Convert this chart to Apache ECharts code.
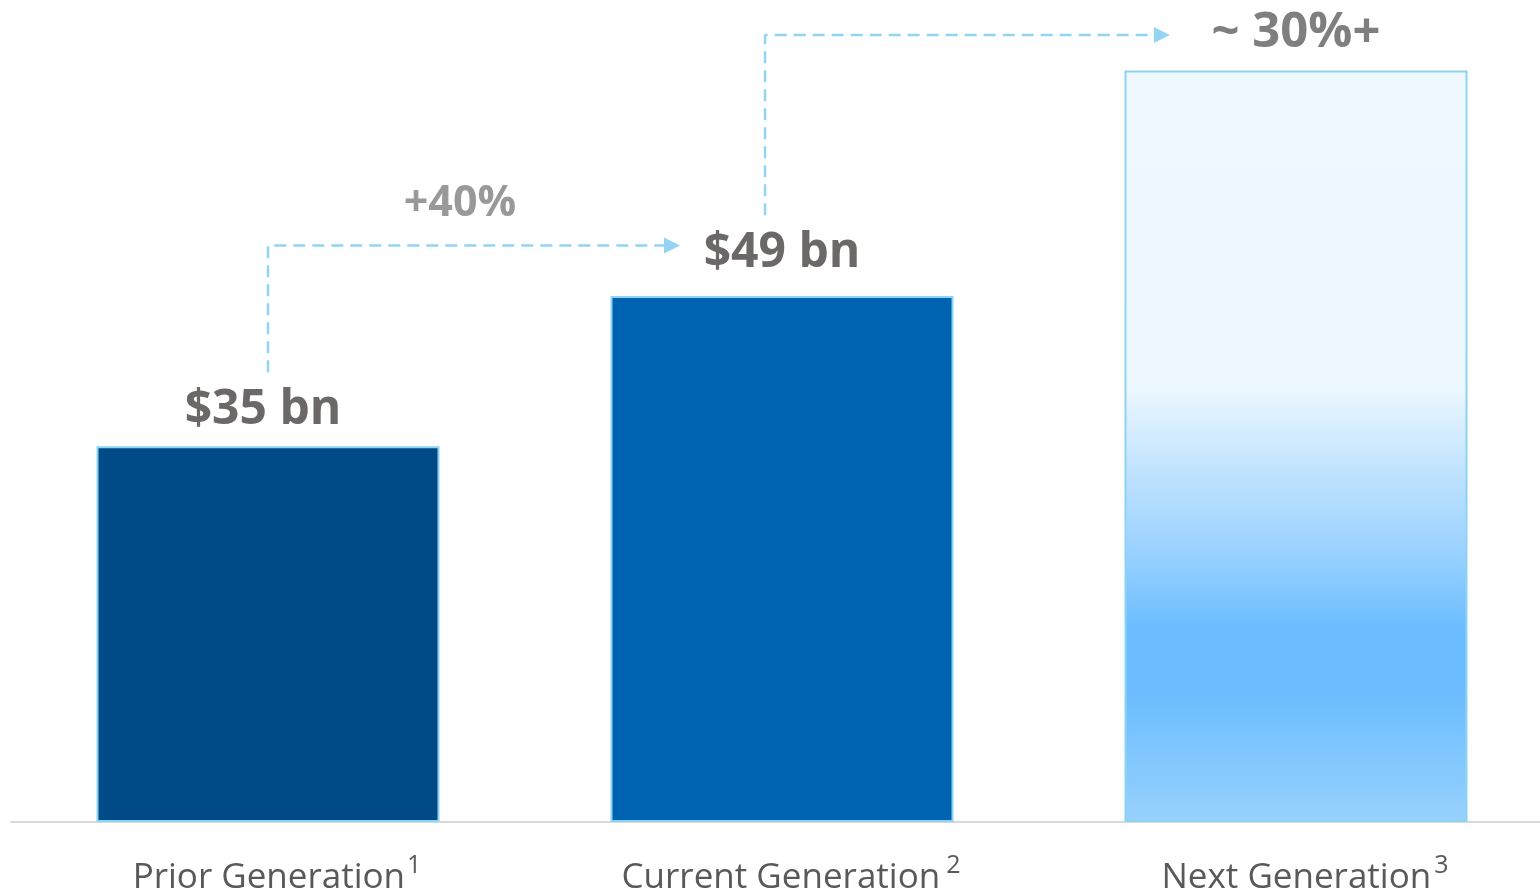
<!DOCTYPE html>
<html>
<head>
<meta charset="utf-8">
<script src="https://cdn.jsdelivr.net/npm/echarts@6/dist/echarts.min.js"></script>
<style>
html,body{margin:0;padding:0;background:#fff;}
#chart{width:1540px;height:894px;}
</style>
</head>
<body>
<div id="chart"></div>
<script>
// ---- data ----
const categories = ['Prior Generation', 'Current Generation', 'Next Generation'];
const footnotes = ['1', '2', '3'];
const values = [35, 49, 70];
const barLabels = ['$35 bn', '$49 bn', '~ 30%+'];
// growth arrows: [x (category index units), y (value units)]
const arrow1 = [[0, 41.9], [0, 53.7], [0.786, 53.7]];
const arrow2 = [[0.967, 56.5], [0.967, 73.3], [1.739, 73.3]];
const growthText = '+40%';
const growthPos = [0.3735, 57.6];

const chart = echarts.init(document.getElementById('chart'));

const barColors = [
  '#004B87',
  '#0063B1',
  new echarts.graphic.LinearGradient(0, 0, 0, 1, [
    {offset: 0, color: '#EEF8FE'},
    {offset: 0.42, color: '#EDF7FE'},
    {offset: 0.52, color: '#C5E5FD'},
    {offset: 0.65, color: '#96D0FF'},
    {offset: 0.74, color: '#6BBDFF'},
    {offset: 0.83, color: '#6CBDFF'},
    {offset: 0.92, color: '#82C8FE'},
    {offset: 1, color: '#98D1FE'}
  ])
];
const labelFont = [48, 48, 49];
const labelDist = [12, 19, 13];
const labelShift = [-5, 0, 0];
const supGap = [2, 6, 3];

const arrowLine = (pts) => pts.map((p, i) => i === pts.length - 1
  ? {value: p, symbol: 'triangle', symbolSize: [16, 16], symbolRotate: -90}
  : {value: p, symbol: 'none'});

const rich = {
  a: {fontFamily: 'Open Sans', fontSize: 35, color: '#595959', lineHeight: 50, padding: [0, 0, 0, 18]}
};
supGap.forEach((g, i) => {
  rich['s' + i] = {fontFamily: 'Open Sans', fontSize: 25, color: '#595959', verticalAlign: 'top', lineHeight: 22, padding: [0, 0, 0, g]};
});

const option = {
  animation: false,
  backgroundColor: '#ffffff',
  grid: {left: 11, width: 1542, top: 6, bottom: 72, containLabel: false, outerBoundsMode: 'none'},
  xAxis: [{
    type: 'category',
    data: categories,
    axisLine: {show: true, lineStyle: {color: '#D9D9D9', width: 2}},
    axisTick: {show: false},
    axisLabel: {
      margin: 31,
      interval: 0,
      formatter: (v, i) => '{a|' + v + '}{s' + i + '|' + footnotes[i] + '}',
      rich: rich
    }
  }, {
    type: 'value', min: -0.5, max: 2.5, show: false
  }],
  yAxis: {type: 'value', min: 0, max: 76, show: false},
  series: [{
    type: 'bar',
    xAxisIndex: 0,
    barWidth: 343,
    data: values.map((v, i) => ({
      value: v,
      itemStyle: {color: barColors[i]},
      label: {
        show: true,
        position: 'top',
        distance: labelDist[i],
        offset: [labelShift[i], 0],
        formatter: barLabels[i],
        fontFamily: 'Open Sans',
        fontWeight: 'bold',
        fontSize: labelFont[i],
        color: i === 2 ? '#7F7F7F' : '#6D6868'
      }
    })),
    itemStyle: {borderColor: '#8DD3F3', borderWidth: 2}
  }, {
    type: 'line',
    xAxisIndex: 1,
    data: arrowLine(arrow1),
    showSymbol: true,
    symbol: 'none',
    itemStyle: {color: '#93D4F4'},
    lineStyle: {color: '#93D4F4', width: 2.5, type: [12, 7]},
    clip: false,
    z: 5
  }, {
    type: 'line',
    xAxisIndex: 1,
    data: arrowLine(arrow2),
    showSymbol: true,
    symbol: 'none',
    itemStyle: {color: '#93D4F4'},
    lineStyle: {color: '#93D4F4', width: 2.5, type: [12, 7]},
    clip: false,
    z: 5
  }, {
    type: 'scatter',
    xAxisIndex: 1,
    data: [growthPos],
    symbolSize: 1,
    itemStyle: {color: 'rgba(0,0,0,0)'},
    label: {
      show: true,
      position: 'inside',
      formatter: growthText,
      fontFamily: 'Open Sans',
      fontWeight: 'bold',
      fontSize: 43,
      color: '#7F7F7F'
    }
  }]
};
chart.setOption(option);
</script>
</body>
</html>
